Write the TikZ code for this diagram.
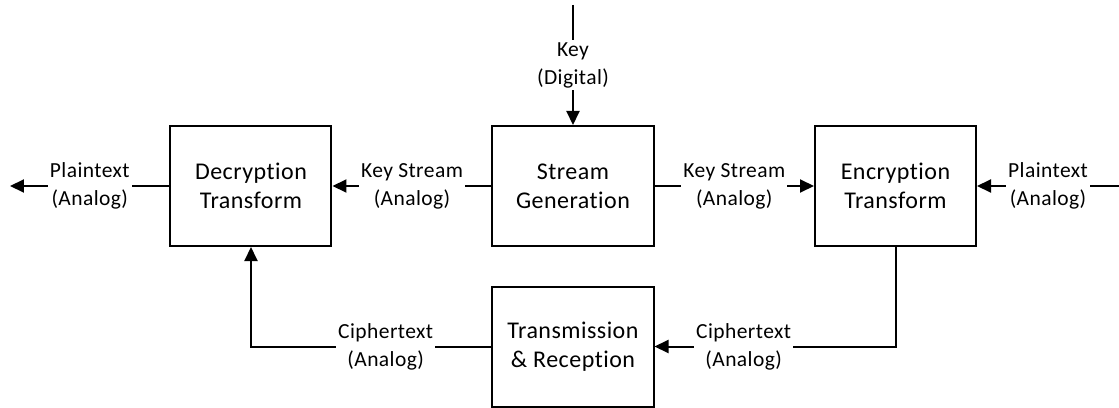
\documentclass[tikz,border=0pt]{standalone}
\usepackage{fontspec}
\setmainfont{Carlito}[Ligatures={NoCommon},LetterSpace=2]
\usepackage{tikz}
\usetikzlibrary{arrows.meta,positioning}

\tikzset{
  block/.style={draw, line width=2pt, minimum width=161pt, minimum height=120pt,
    align=center, inner sep=0pt, font=\fontsize{24}{29}\selectfont},
  lbl/.style={fill=white, anchor=center, pos=0.5, align=center, inner sep=2pt,
    font=\fontsize{21.5}{28}\selectfont}
}

\begin{document}
\begin{tikzpicture}[x=1pt,y=1pt,line width=2pt,>={Triangle[length=14pt,width=13pt]},node distance=322pt,on grid]
    \useasboundingbox (-573,186) rectangle (546,-221);
    \node[block] (stream) {Stream\\Generation};
    \node[block] (decrypt) [left=of stream] {Decryption\\Transform};
    \node[block] (encrypt) [right=322.5pt of stream] {Encryption\\Transform};
    \node[block] (trans) [below=160.5pt of stream] {Transmission\\\& Reception};
    \coordinate[above=181pt of stream] (keyin);
    \coordinate[left=563pt of stream] (ptout);
    \coordinate[right=546pt of stream] (ptin);
    \path[->]
          (keyin) edge node[lbl] {Key\\(Digital)} (stream)
          (stream) edge node[lbl] {Key Stream\\(Analog)} (decrypt)
                   edge node[lbl] {Key Stream\\(Analog)} (encrypt)
          (decrypt) edge node[lbl] {Plaintext\\(Analog)} (ptout)
          (ptin) edge node[lbl] {Plaintext\\(Analog)} (encrypt);
    \draw[->] (encrypt) |- node[lbl, pos=0.815] {Ciphertext\\(Analog)} (trans);
    \draw[->] (trans) -| node[lbl, pos=0.22] {Ciphertext\\(Analog)} (decrypt);
\end{tikzpicture}
\end{document}
